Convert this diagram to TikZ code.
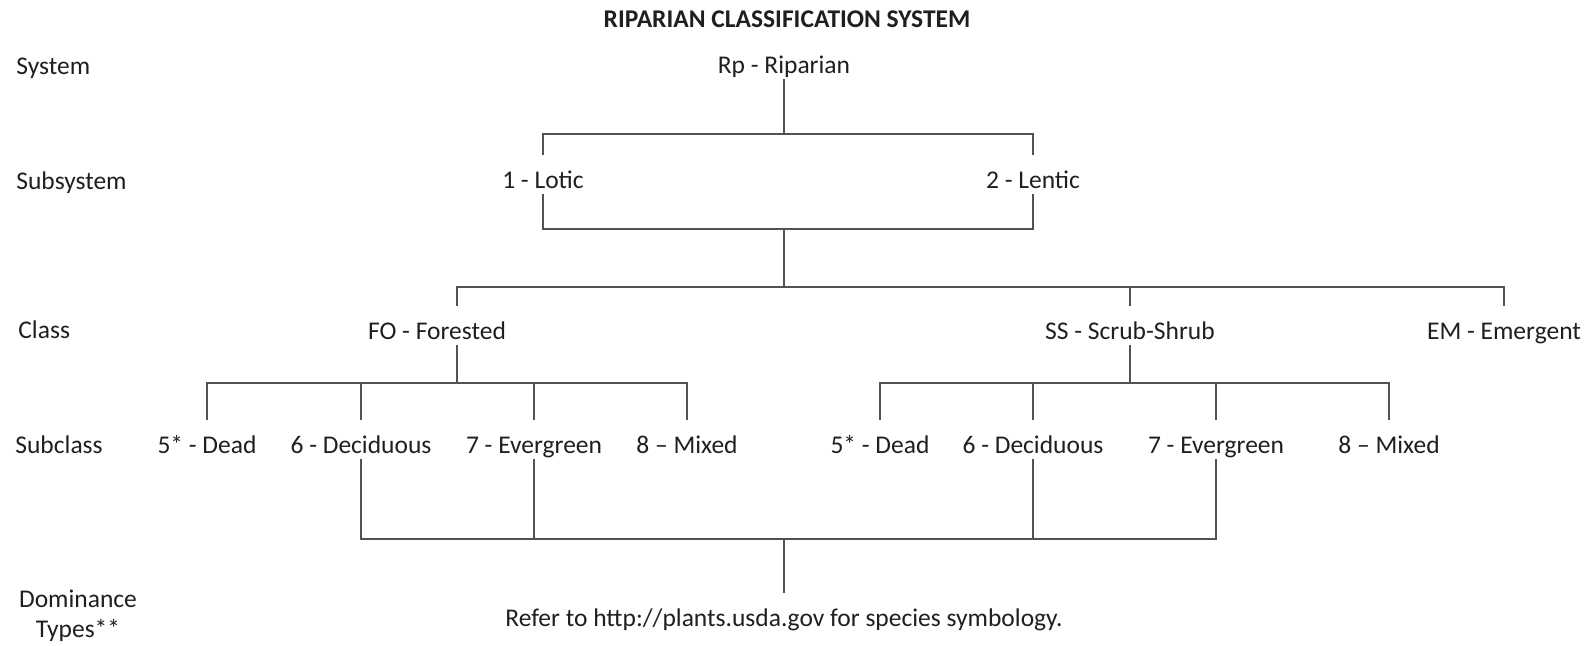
\documentclass[tikz,border=0pt]{standalone}
\usepackage{fontspec}
\setmainfont{Carlito}
\usepackage{tikz}

\begin{document}
\begin{tikzpicture}[x=0.5pt,y=-0.5pt,font=\fontsize{12.75}{15}\selectfont,
  lbl/.style={inner xsep=0pt,inner ysep=0pt,text height=16.5pt,text depth=2.75pt,anchor=base,text=black!88},
  rowlbl/.style={inner sep=0pt,anchor=base west,text=black!88},
  conn/.style={draw=black!68,line width=1.2pt}]
  \useasboundingbox (0,0) rectangle (1592,645);
  % levels of the horizontal bars
  \coordinate (b1) at (0,134);
  \coordinate (b2) at (0,229);
  \coordinate (b3) at (0,287);
  \coordinate (b4) at (0,383);
  \coordinate (b5) at (0,539);
  % title and row labels
  \node[inner sep=0pt,anchor=base,text=black!88] (title) at (787,27) {\textbf{RIPARIAN CLASSIFICATION SYSTEM}};
  \node[rowlbl] (lsys) at (16,74) {System};
  \node[rowlbl] (lsub) at (16,189) {Subsystem};
  \node[rowlbl] (lcls) at (18,338) {Class};
  \node[rowlbl] (lscl) at (15,453) {Subclass};
  \node[inner sep=0pt,anchor=base,align=center,text=black!88] (ldom) at (78,637) {Dominance\\Types**};
  % system, subsystem, class
  \node[lbl] (rp) at (784,73) {Rp - Riparian};
  \node[lbl] (lotic) at (543,188) {1 - Lotic};
  \node[lbl] (lentic) at (1033,188) {2 - Lentic};
  \node[lbl] (fo) at (437,339) {FO - Forested};
  \node[lbl] (ss) at (1130,339) {SS - Scrub-Shrub};
  \node[lbl] (em) at (1504,339) {EM - Emergent};
  % subclasses
  \node[lbl] (fdead) at (207,453) {5* - Dead};
  \node[lbl] (fdec) at (361,453) {6 - Deciduous};
  \node[lbl] (fever) at (534,453) {7 - Evergreen};
  \node[lbl] (fmix) at (687,453) {8 -- Mixed};
  \node[lbl] (sdead) at (880,453) {5* - Dead};
  \node[lbl] (sdec) at (1033,453) {6 - Deciduous};
  \node[lbl] (sever) at (1216,453) {7 - Evergreen};
  \node[lbl] (smix) at (1389,453) {8 -- Mixed};
  \node[lbl] (refer) at (784,626) {Refer to http://plants.usda.gov for species symbology.};
  % connectors
  \draw[conn] (rp.south) -- (rp.south |- b1);
  \draw[conn] (lotic.north) |- (lentic.north |- b1) -- (lentic.north);
  \draw[conn] (lotic.south) |- (lentic.south |- b2) -- (lentic.south);
  \draw[conn] (rp |- b2) -- (rp |- b3);
  \draw[conn] ([xshift=10pt]fo.north) |- (em.north |- b3) -- (em.north);
  \draw[conn] (ss.north) -- (ss.north |- b3);
  \draw[conn] ([xshift=10pt]fo.south) -- ([xshift=10pt]fo.south |- b4);
  \draw[conn] (fdead.north) |- (fmix.north |- b4) -- (fmix.north);
  \draw[conn] (fdec.north) -- (fdec.north |- b4);
  \draw[conn] (fever.north) -- (fever.north |- b4);
  \draw[conn] (ss.south) -- (ss.south |- b4);
  \draw[conn] (sdead.north) |- (smix.north |- b4) -- (smix.north);
  \draw[conn] (sdec.north) -- (sdec.north |- b4);
  \draw[conn] (sever.north) -- (sever.north |- b4);
  % dominance types
  \draw[conn] (fdec.south) |- (sever.south |- b5) -- (sever.south);
  \draw[conn] (fever.south) -- (fever.south |- b5);
  \draw[conn] (sdec.south) -- (sdec.south |- b5);
  \draw[conn] (rp |- b5) -- (refer.north);
\end{tikzpicture}
\end{document}
